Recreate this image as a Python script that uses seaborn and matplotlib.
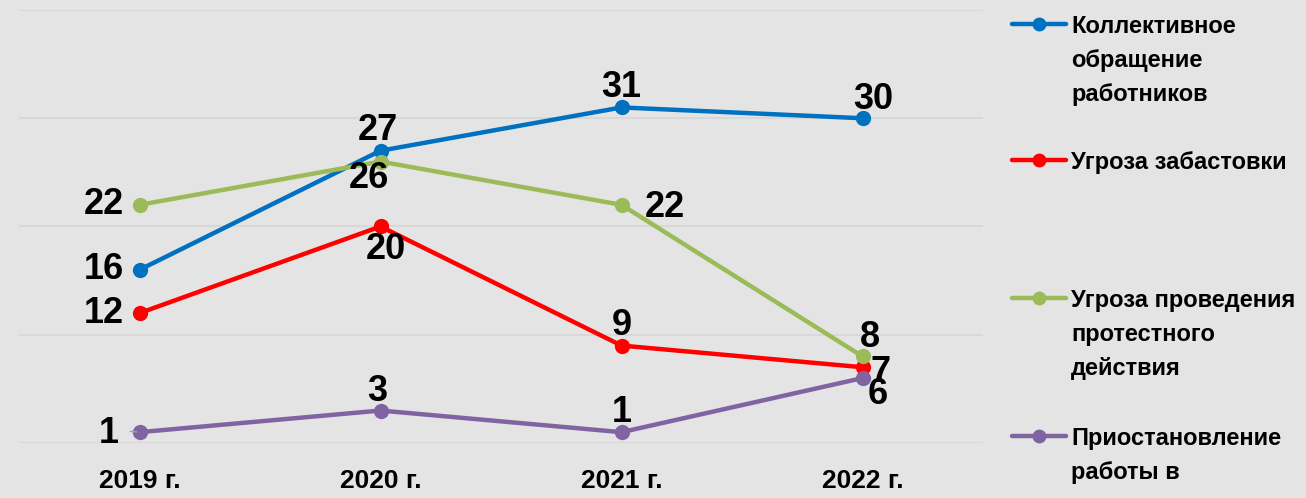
import matplotlib
matplotlib.use("Agg")
import matplotlib.pyplot as plt
from matplotlib.lines import Line2D
import seaborn as sns
import pandas as pd

years = ["2019 г.", "2020 г.", "2021 г.", "2022 г."]
series_names = [
    "Коллективное обращение работников",
    "Угроза забастовки",
    "Угроза проведения протестного действия",
    "Приостановление работы в соответствии со ст.",
]
collective = [16, 27, 31, 30]
strike = [12, 20, 9, 7]
protest = [22, 26, 22, 8]
suspension = [1, 3, 1, 6]

legend_lines = [
    ["Коллективное", "обращение", "работников"],
    ["Угроза забастовки"],
    ["Угроза проведения", "протестного", "действия"],
    ["Приостановление", "работы в", "соответствии со ст."],
]

colors = ["#0070C0", "#FF0000", "#9BBB59", "#8064A2"]
BG = "#E4E4E4"

sns.set_theme(style="white")
plt.rcParams["font.family"] = ["Liberation Sans", "DejaVu Sans"]

rows = []
for name, vals in zip(series_names, [collective, strike, protest, suspension]):
    for y, v in zip(years, vals):
        rows.append({"year": y, "value": v, "series": name})
df = pd.DataFrame(rows)

W, H = 1306, 498
fig = plt.figure(figsize=(W / 100, H / 100), dpi=100, facecolor=BG)
ax = fig.add_axes([19 / W, 1 - 443 / H, (983 - 19) / W, (443 - 10) / H])
ax.set_facecolor(BG)

sns.lineplot(data=df, x="year", y="value", hue="series", hue_order=series_names,
             palette=colors, marker="o", markersize=11, markeredgewidth=0,
             linewidth=3.2, ax=ax, legend=False, sort=False)

ax.set_xlim(-0.5, 3.5)
ax.set_ylim(0, 40)
ax.set_yticks([0, 10, 20, 30, 40])
ax.set_yticklabels([])
ax.tick_params(axis="y", length=0)
ax.yaxis.grid(True, color="#D6D6D6", linewidth=1.2)
ax.xaxis.grid(False)
ax.set_axisbelow(True)
for s in ax.spines.values():
    s.set_visible(False)
ax.set_xlabel("")
ax.set_ylabel("")
ax.set_xticks(range(len(years)))
ax.set_xticklabels(years, fontsize=19, fontweight="bold", color="black")
ax.tick_params(axis="x", length=0, pad=19)

# label offsets in pixels (dx, dy)
offsets = [
    [(-36, 0), (-3, 20), (0, 20), (11, 19)],
    [(-36, 0), (5, -23), (0, 20), (18, -5)],
    [(-36, 0), (-12, -17), (43, -3), (7, 19)],
    [(-31, -1), (-3, 19), (0, 20), (15, -16)],
]
for vals, offs in zip([collective, strike, protest, suspension], offsets):
    for i, (v, (dx, dy)) in enumerate(zip(vals, offs)):
        ax.annotate(str(v), (i, v), xytext=(dx, dy), textcoords="offset pixels",
                    ha="center", va="center", fontsize=26, fontweight="bold",
                    color="black", zorder=5)

# small leader line for first purple label
ax.annotate("", (0, suspension[0]), xytext=(-12, 1), textcoords="offset pixels",
            arrowprops=dict(arrowstyle="-", color="#A0A0A0", lw=1))

# legend (drawn manually to match top-aligned multi-line entries)
leg_y = [24, 160, 298, 436]
for col, y, lines in zip(colors, leg_y, legend_lines):
    fy = 1 - y / H
    fig.add_artist(Line2D([1012 / W, 1066 / W], [fy, fy], color=col, lw=3.2,
                          transform=fig.transFigure))
    fig.add_artist(Line2D([1039 / W], [fy], color=col, marker="o", markersize=10,
                          markeredgewidth=0, transform=fig.transFigure))
    for k, t in enumerate(lines):
        fig.text(1071 / W, 1 - (y + 9 + 34 * k) / H, t, fontsize=17,
                 fontweight="bold", color="black", ha="left", va="baseline")

fig.savefig("out.png", dpi=100, facecolor=BG)
